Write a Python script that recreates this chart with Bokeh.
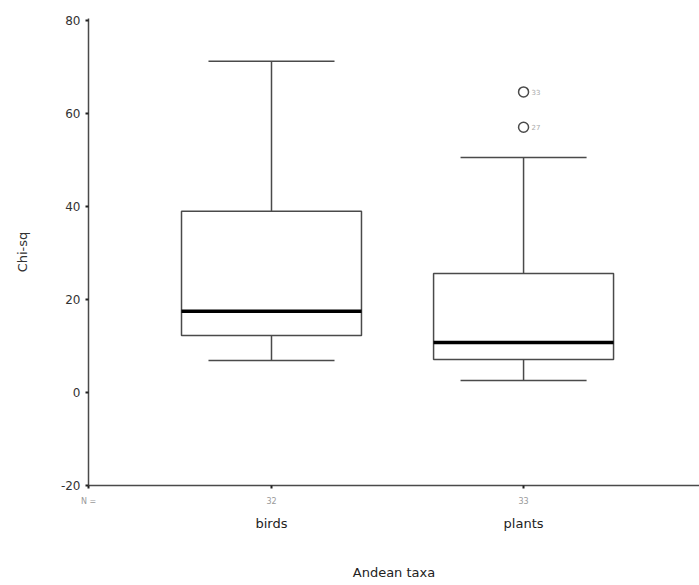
from bokeh.plotting import figure
from bokeh.models import Range1d, FixedTicker, LinearAxis, ColumnDataSource
from bokeh.core.properties import value
from bokeh.embed import file_html
from bokeh.resources import INLINE

categories = ["birds", "plants"]
n_counts = ["32", "33"]
lower_whisker = [6.9, 2.6]
q1 = [12.3, 7.1]
median = [17.5, 10.8]
q3 = [39.0, 25.6]
upper_whisker = [71.3, 50.6]
outlier_cat = [2, 2]
outlier_vals = [64.7, 57.1]
outlier_ids = ["33", "27"]
y_ticks = [-20, 0, 20, 40, 60, 80]

xpos = [i + 1 for i in range(len(categories))]
box_half = 0.357
cap_half = 0.25
x_start, x_end = 0.274, 2.698

FONT = "DejaVu Sans"
LINE = "#4a4a4a"

p = figure(width=699, height=585, output_backend="svg", toolbar_location=None,
           x_range=Range1d(x_start, x_end), y_range=Range1d(-20, 80.5),
           min_border_left=88, min_border_right=0, min_border_top=18, min_border_bottom=100,
           x_axis_location=None, y_axis_location=None)
p.outline_line_color = None
p.xgrid.visible = False
p.ygrid.visible = False

src = ColumnDataSource(dict(
    x=xpos, left=[x - box_half for x in xpos], right=[x + box_half for x in xpos],
    cl=[x - cap_half for x in xpos], cr=[x + cap_half for x in xpos],
    lo=lower_whisker, q1=q1, med=median, q3=q3, hi=upper_whisker))

# whiskers
p.segment(x0="x", y0="q3", x1="x", y1="hi", source=src, line_color=LINE, line_width=1.5)
p.segment(x0="x", y0="lo", x1="x", y1="q1", source=src, line_color=LINE, line_width=1.5)
p.segment(x0="cl", y0="hi", x1="cr", y1="hi", source=src, line_color=LINE, line_width=1.5)
p.segment(x0="cl", y0="lo", x1="cr", y1="lo", source=src, line_color=LINE, line_width=1.5)
# boxes
p.quad(left="left", right="right", bottom="q1", top="q3", source=src,
       fill_color="white", line_color=LINE, line_width=1.5)
# medians
p.segment(x0="left", y0="med", x1="right", y1="med", source=src, line_color="black", line_width=3.5)

# outliers
osrc = ColumnDataSource(dict(x=outlier_cat, y=outlier_vals, t=outlier_ids))
p.scatter(x="x", y="y", source=osrc, marker="circle", size=10, fill_color="white",
          line_color=LINE, line_width=1.5)
p.text(x="x", y="y", text="t", source=osrc, x_offset=8, text_baseline="middle",
       text_font=value(FONT), text_font_size="7px", text_color="#aaaaaa")

# y axis
yax = LinearAxis(ticker=FixedTicker(ticks=y_ticks), axis_label="Chi-sq",
                 major_label_overrides={t: str(t) for t in y_ticks})
yax.axis_line_color = LINE
yax.axis_line_width = 1.5
yax.major_tick_in = 0
yax.major_tick_out = 3
yax.major_tick_line_width = 2
yax.major_tick_line_color = "#222222"
yax.minor_tick_line_color = None
yax.major_label_text_font = FONT
yax.major_label_text_font_size = "12px"
yax.major_label_text_color = "#333333"
yax.major_label_standoff = 5
yax.axis_label_text_font = FONT
yax.axis_label_text_font_size = "13px"
yax.axis_label_text_font_style = "normal"
yax.axis_label_text_color = "#333333"
yax.axis_label_standoff = 28
p.add_layout(yax, "left")

# x axis with N counts
n_ticks = [x_start] + xpos
n_labels = {x_start: "N ="}
n_labels.update({x: n for x, n in zip(xpos, n_counts)})
xax1 = LinearAxis(ticker=FixedTicker(ticks=n_ticks), major_label_overrides=n_labels)
xax1.axis_line_color = LINE
xax1.axis_line_width = 1.5
xax1.major_tick_in = 0
xax1.major_tick_out = 3
xax1.major_tick_line_width = 2
xax1.major_tick_line_color = "#222222"
xax1.minor_tick_line_color = None
xax1.major_label_text_font = FONT
xax1.major_label_text_font_size = "8px"
xax1.major_label_text_color = "#999999"
xax1.major_label_standoff = 8
p.add_layout(xax1, "below")

# x axis with category names
xax2 = LinearAxis(ticker=FixedTicker(ticks=xpos),
                  major_label_overrides={x: c for x, c in zip(xpos, categories)},
                  axis_label="Andean taxa")
xax2.axis_line_color = None
xax2.major_tick_line_color = None
xax2.minor_tick_line_color = None
xax2.major_tick_in = 0
xax2.major_tick_out = 0
xax2.major_label_text_font = FONT
xax2.major_label_text_font_size = "13px"
xax2.major_label_text_color = "#222222"
xax2.major_label_standoff = 7
xax2.axis_label_text_font = FONT
xax2.axis_label_text_font_size = "13px"
xax2.axis_label_text_font_style = "normal"
xax2.axis_label_text_color = "#222222"
xax2.axis_label_standoff = 31
p.add_layout(xax2, "below")

open("out.html", "w").write(file_html(p, INLINE))
